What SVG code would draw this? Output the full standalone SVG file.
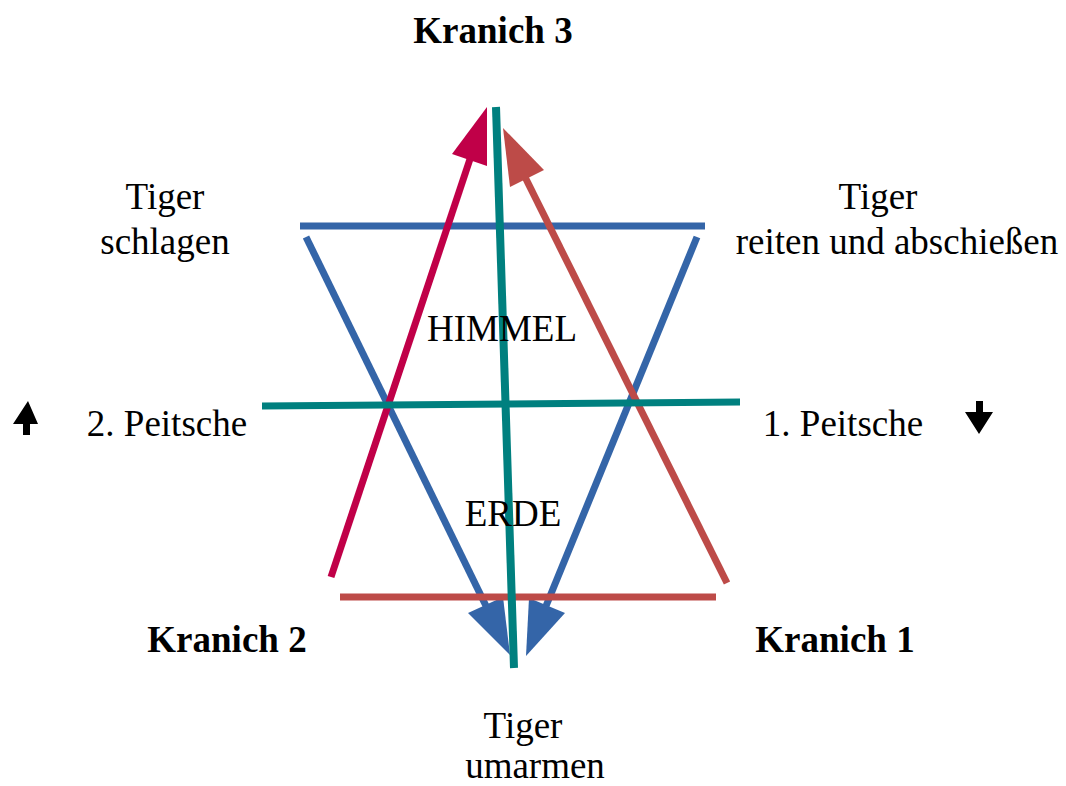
<svg xmlns="http://www.w3.org/2000/svg" width="1066" height="786" viewBox="0 0 1066 786">
<style>
text{font-family:"Liberation Serif","Times New Roman",serif;font-size:37px;fill:#000}
.b{font-weight:bold}
.l{fill:none;stroke-width:7}
.blue{stroke:#3465A8}.bluef{fill:#3465A8}
.teal{stroke:#00807F}
.crim{stroke:#C00048}.crimf{fill:#C00048}
.rb{stroke:#BD4B48}.rbf{fill:#BD4B48}
</style>
<rect width="1066" height="786" fill="#fff"/>
<g id="connectors">
<line class="l blue" x1="300" y1="226" x2="705" y2="226"/>
<line class="l blue" x1="306" y1="237" x2="488" y2="610"/>
<polygon class="bluef" points="468,613 503,597 510,655"/>
<line class="l blue" x1="697" y1="237" x2="546" y2="606"/>
<polygon class="bluef" points="529,598 565,613 526,656"/>
<line class="l rb" x1="340" y1="597" x2="716" y2="597"/>
<line class="l crim" x1="331" y1="577" x2="473" y2="150"/>
<polygon class="crimf" points="452,154 487,166 487,107"/>
<line class="l rb" x1="727" y1="583" x2="524" y2="175"/>
<polygon class="rbf" points="510,187 544,170 503,128"/>
<line class="l teal" x1="262" y1="406" x2="740" y2="402"/>
<line class="l teal" x1="496" y1="107" x2="514" y2="668" style="stroke-width:8"/>
</g>
<g id="kranich3"><text class="b" x="493" y="43" text-anchor="middle">Kranich 3</text></g>
<g id="tiger-schlagen"><text x="165" y="209" text-anchor="middle">Tiger</text><text x="165" y="254" text-anchor="middle">schlagen</text></g>
<g id="tiger-reiten"><text x="878" y="209" text-anchor="middle">Tiger</text><text x="897" y="254" text-anchor="middle">reiten und abschießen</text></g>
<g id="himmel"><text x="502" y="341" text-anchor="middle">HIMMEL</text></g>
<g id="peitsche2"><text x="167" y="436" text-anchor="middle">2. Peitsche</text>
<polygon fill="#000" points="28,401 38,424 30,424 30,435 23,435 23,424 13,424"/></g>
<g id="peitsche1"><text x="843" y="436" text-anchor="middle">1. Peitsche</text>
<polygon fill="#000" points="976,401 983,401 983,412 993,412 979,434 965,412 976,412"/></g>
<g id="erde"><text x="513" y="526" text-anchor="middle">ERDE</text></g>
<g id="kranich2"><text class="b" x="227" y="652" text-anchor="middle">Kranich 2</text></g>
<g id="kranich1"><text class="b" x="835" y="652" text-anchor="middle">Kranich 1</text></g>
<g id="tiger-umarmen"><text x="523" y="738" text-anchor="middle">Tiger</text><text x="535" y="778" text-anchor="middle">umarmen</text></g>
</svg>
